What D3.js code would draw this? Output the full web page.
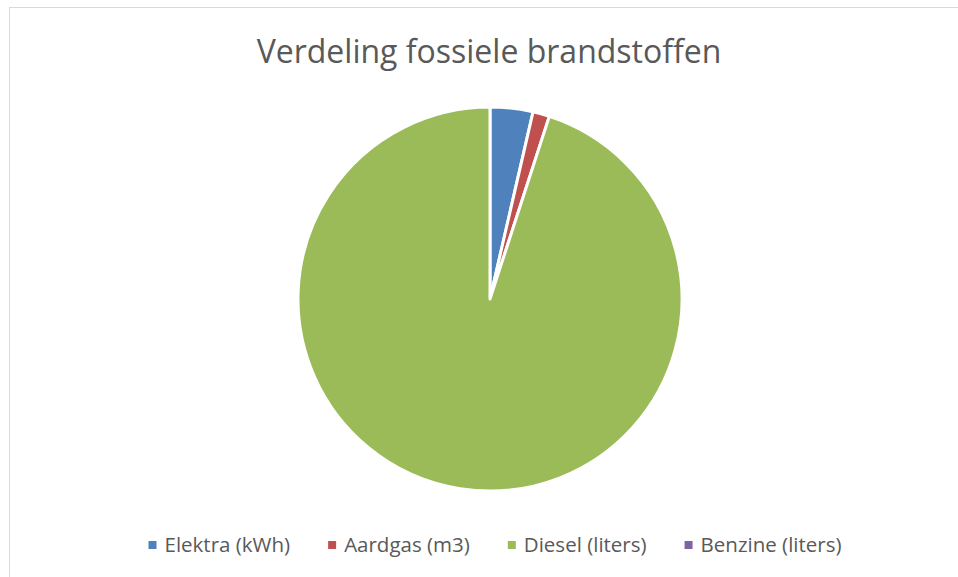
<!DOCTYPE html>
<html>
<head>
<meta charset="utf-8">
<script src="https://cdn.jsdelivr.net/npm/d3@7"></script>
<style>
  body { margin: 0; background: #fff; }
  text { font-family: "Open Sans", "Noto Sans", sans-serif; }
</style>
</head>
<body>
<script>
const WIDTH = 958;
const HEIGHT = 577;

// share of each fuel (percent)
var categories = ['Elektra (kWh)', 'Aardgas (m3)', 'Diesel (liters)', 'Benzine (liters)'];
var values = [3.6, 1.4, 95.0, 0];
var colors = ['#4F81BD', '#C0504D', '#9BBB59', '#8064A2'];
var title = 'Verdeling fossiele brandstoffen';

var data = categories.map(function (c, i) {
    return { name: c, value: values[i], color: colors[i] };
});

var svg = d3.select('body').append('svg')
    .attr('width', WIDTH)
    .attr('height', HEIGHT);

// chart frame, runs past the right and bottom edges
svg.append('rect')
    .attr('x', 9.5)
    .attr('y', 7.5)
    .attr('width', WIDTH + 20)
    .attr('height', HEIGHT + 20)
    .attr('fill', '#fff')
    .attr('stroke', '#d9d9d9')
    .attr('stroke-width', 1);

svg.append('text')
    .attr('x', 489)
    .attr('y', 63)
    .attr('text-anchor', 'middle')
    .attr('font-size', 32)
    .attr('fill', '#595959')
    .text(title);

var radius = 192;
var pie = d3.pie()
    .sort(null)
    .value(function (d) { return d.value; });
var arc = d3.arc()
    .innerRadius(0)
    .outerRadius(radius);

var g = svg.append('g')
    .attr('transform', 'translate(490,299)');

g.selectAll('path')
    .data(pie(data).filter(function (d) { return d.data.value > 0; }))
    .enter()
    .append('path')
    .attr('d', arc)
    .attr('fill', function (d) { return d.data.color; })
    .attr('stroke', '#fff')
    .attr('stroke-width', 3)
    .attr('stroke-linejoin', 'round');

// legend
var legend = svg.append('g');
var items = legend.selectAll('g')
    .data(data)
    .enter()
    .append('g');
items.append('rect')
    .attr('width', 8)
    .attr('height', 8)
    .attr('y', -4)
    .attr('fill', function (d) { return d.color; });
items.append('text')
    .attr('x', 16)
    .attr('dy', '0.35em')
    .attr('font-size', 20.5)
    .attr('fill', '#595959')
    .text(function (d) { return d.name; });

var gap = 38;
var xPos = 0;
items.each(function () {
    var w = this.getBBox().width;
    d3.select(this).attr('transform', 'translate(' + xPos + ',0)');
    xPos += w + gap;
});
var total = xPos - gap;
legend.attr('transform', 'translate(' + (495 - total / 2) + ',545)');
</script>
</body>
</html>
